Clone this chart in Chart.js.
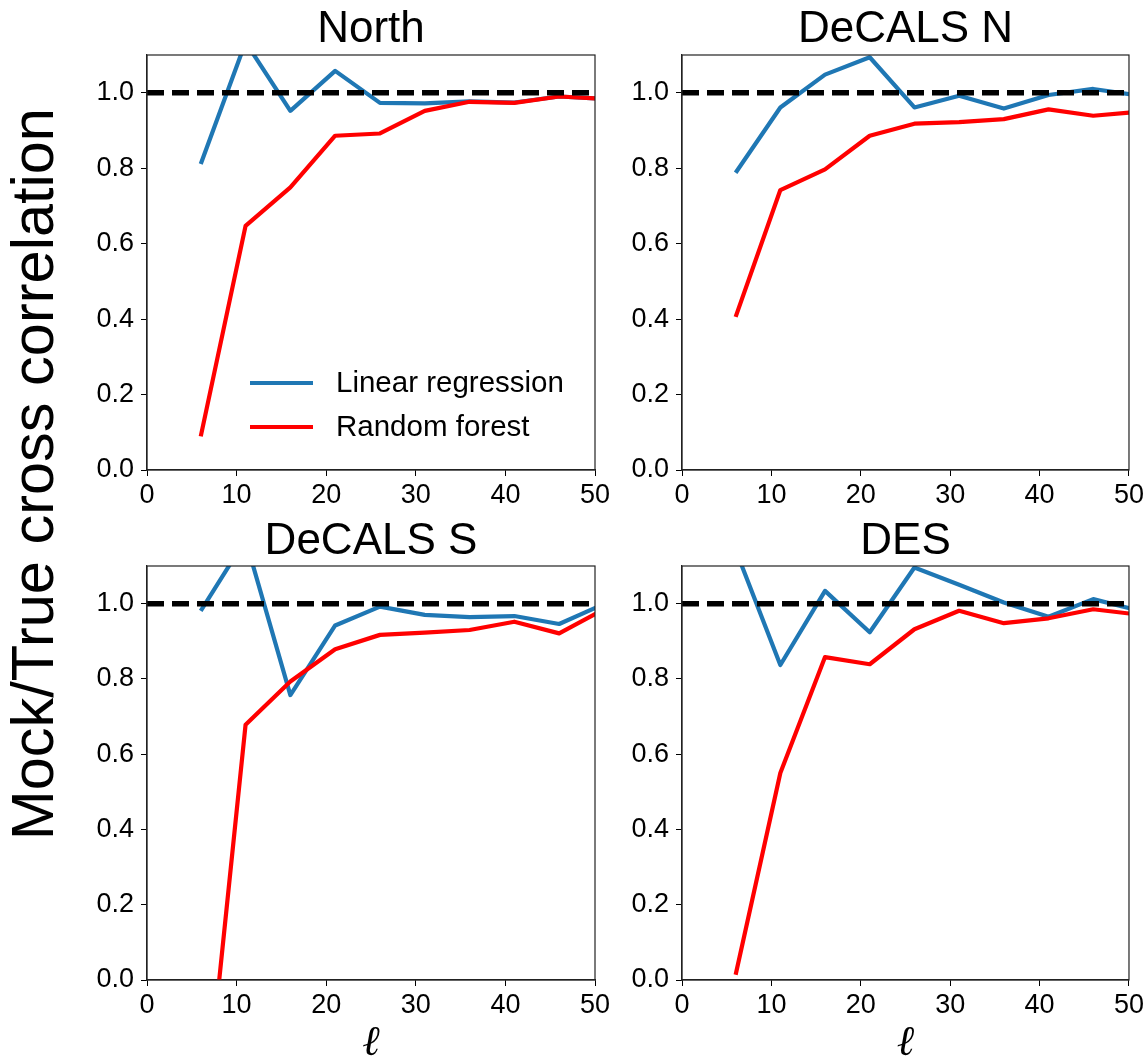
<!DOCTYPE html>
<html>
<head>
<meta charset="utf-8">
<script src="https://cdn.jsdelivr.net/npm/chart.js@4.4.0/dist/chart.umd.min.js"></script>
<style>
  html, body { margin: 0; padding: 0; background: #fff; }
  #wrap { position: relative; width: 1147px; height: 1057px; overflow: hidden; }
  #wrap canvas { position: absolute; left: 0; top: 0; }
</style>
</head>
<body>
<div id="wrap">
  <canvas id="pNorth" width="1147" height="1057"></canvas>
  <canvas id="pDecalsN" width="1147" height="1057"></canvas>
  <canvas id="pDecalsS" width="1147" height="1057"></canvas>
  <canvas id="pDes" width="1147" height="1057"></canvas>
</div>
<script>
// Multipole bins (the last bin sits just past the plotted range)
const ells = [6, 11, 16, 21, 26, 31, 36, 41, 46, 51];
const xTicks = [0, 10, 20, 30, 40, 50];
const yTicks = [0.0, 0.2, 0.4, 0.6, 0.8, 1.0];

const panelTitles = ['North', 'DeCALS N', 'DeCALS S', 'DES'];
const seriesNames = ['Linear regression', 'Random forest'];
const yAxisLabel = 'Mock/True cross correlation';
const xAxisLabel = 'ℓ';

// Reference ratio of 1
const unityEll = [0, 50];
const unity = [1, 1];

// Mock/True cross-correlation ratios per footprint
const linNorth = [0.811, 1.134, 0.952, 1.058, 0.973, 0.972, 0.977, 0.974, 0.990, 0.984];
const rfNorth  = [0.089, 0.647, 0.749, 0.886, 0.892, 0.952, 0.976, 0.973, 0.990, 0.984];

const linDecalsN = [0.788, 0.961, 1.048, 1.094, 0.961, 0.992, 0.958, 0.994, 1.010, 0.993];
const rfDecalsN  = [0.406, 0.742, 0.797, 0.886, 0.918, 0.922, 0.930, 0.956, 0.939, 0.949];

const linDecalsS = [0.981, 1.170, 0.757, 0.942, 0.992, 0.970, 0.964, 0.967, 0.946, 0.999];
const rfDecalsS  = [-0.475, 0.678, 0.793, 0.879, 0.917, 0.923, 0.930, 0.952, 0.921, 0.985];

const linDes = [1.143, 0.837, 1.034, 0.924, 1.096, 1.050, 1.003, 0.965, 1.012, 0.982];
const rfDes  = [0.014, 0.550, 0.858, 0.839, 0.932, 0.981, 0.948, 0.961, 0.985, 0.971];

const FONT = '"Liberation Sans", Arial, Helvetica, sans-serif';
const PAGE_W = 1147, PAGE_H = 1057;
const LIN_COLOR = '#1f77b4';
const RF_COLOR = '#ff0000';
const TITLE_SIZE = 44;
const TITLE_LH = 1.1;

// Full box around each axes, like matplotlib spines
const framePlugin = {
  id: 'frame',
  afterDatasetsDraw(chart) {
    const a = chart.chartArea, ctx = chart.ctx;
    ctx.save();
    ctx.strokeStyle = '#222';
    ctx.lineWidth = 1.2;
    ctx.strokeRect(a.left, a.top, a.right - a.left, a.bottom - a.top);
    ctx.restore();
  }
};

// Legend inside the first panel
const insideLegend = {
  id: 'insideLegend',
  afterDraw(chart, args, opts) {
    if (!opts.show) return;
    const ctx = chart.ctx, a = chart.chartArea;
    const items = chart.data.datasets.filter(d => seriesNames.includes(d.label));
    ctx.save();
    ctx.font = '29.5px ' + FONT;
    ctx.textBaseline = 'middle';
    ctx.fillStyle = '#000';
    items.forEach((d, i) => {
      const y = a.top + 328 + i * 44;
      const x0 = a.left + 103;
      ctx.strokeStyle = d.borderColor;
      ctx.lineWidth = d.borderWidth;
      ctx.beginPath();
      ctx.moveTo(x0, y);
      ctx.lineTo(x0 + 63, y);
      ctx.stroke();
      ctx.fillText(d.label, x0 + 86, y + 1);
    });
    ctx.restore();
  }
};

// Shared y label for the whole figure
const figureYLabel = {
  id: 'figureYLabel',
  afterDraw(chart, args, opts) {
    if (!opts.show) return;
    const ctx = chart.ctx;
    ctx.save();
    ctx.translate(53, 474);
    ctx.rotate(-Math.PI / 2);
    ctx.font = '59.5px ' + FONT;
    ctx.fillStyle = '#000';
    ctx.textAlign = 'center';
    ctx.textBaseline = 'alphabetic';
    ctx.fillText(yAxisLabel, 0, 0);
    ctx.restore();
  }
};

function makePanel(canvasId, title, lin, rf, area, opts) {
  const Y_W = 60;
  const X_H = opts.xTitle ? 77 : 40;
  const titlePad = opts.titlePad;
  const titleBox = TITLE_SIZE * TITLE_LH + titlePad.top + titlePad.bottom;
  const axisCommon = {
    type: 'linear',
    grid: { drawOnChartArea: false, drawTicks: true, tickLength: 6, tickColor: '#000', tickWidth: 1, color: '#000' },
    border: { display: true, color: '#222', width: 1.2 }
  };
  return new Chart(document.getElementById(canvasId), {
    type: 'line',
    data: {
      datasets: [
        {
          label: 'unity',
          data: unityEll.map((x, i) => ({ x, y: unity[i] })),
          borderColor: '#000', borderWidth: 5.5, borderDash: [17, 8],
          pointRadius: 0, order: 0, clip: 0
        },
        {
          label: seriesNames[0],
          data: ells.map((x, i) => ({ x, y: lin[i] })),
          borderColor: LIN_COLOR, borderWidth: 4.2, borderJoinStyle: 'round',
          pointRadius: 0, order: 2, clip: 0
        },
        {
          label: seriesNames[1],
          data: ells.map((x, i) => ({ x, y: rf[i] })),
          borderColor: RF_COLOR, borderWidth: 4.2, borderJoinStyle: 'round',
          pointRadius: 0, order: 1, clip: 0
        }
      ]
    },
    options: {
      responsive: false,
      animation: false,
      devicePixelRatio: 1,
      events: [],
      layout: {
        padding: {
          left: area.left - Y_W,
          right: PAGE_W - area.right,
          top: area.top - titleBox,
          bottom: PAGE_H - area.bottom - X_H
        }
      },
      elements: { line: { tension: 0 } },
      plugins: {
        legend: { display: false },
        tooltip: { enabled: false },
        title: {
          display: true, text: title, fullSize: false, color: '#000',
          font: { family: FONT, size: TITLE_SIZE, weight: 'normal', lineHeight: TITLE_LH },
          padding: titlePad
        },
        insideLegend: { show: !!opts.legend },
        figureYLabel: { show: !!opts.yLabel }
      },
      scales: {
        x: Object.assign({}, axisCommon, {
          min: 0, max: 50,
          afterFit(s) { s.height = X_H; },
          afterBuildTicks(s) { s.ticks = xTicks.map(v => ({ value: v })); },
          ticks: { font: { family: FONT, size: 27 }, color: '#000', padding: 3, maxRotation: 0, autoSkip: false },
          title: {
            display: !!opts.xTitle, text: xAxisLabel, color: '#000',
            font: { family: '"DejaVu Serif", serif', style: 'italic', size: 42, lineHeight: 0.6 },
            padding: { top: 0, bottom: 0 }
          }
        }),
        y: Object.assign({}, axisCommon, {
          min: 0, max: 1.1,
          afterFit(s) { s.width = Y_W; },
          afterBuildTicks(s) { s.ticks = yTicks.map(v => ({ value: v })); },
          ticks: { font: { family: FONT, size: 27 }, color: '#000', padding: 7, autoSkip: false,
                   callback: v => Number(v).toFixed(1) }
        })
      }
    },
    plugins: [framePlugin, insideLegend, figureYLabel]
  });
}

const topPad = { top: 6, bottom: 0.6 };
const bottomPad = { top: 4, bottom: 0 };
makePanel('pNorth',   panelTitles[0], linNorth,   rfNorth,   { left: 147, right: 595,  top: 55,  bottom: 470 }, { legend: true, yLabel: true, titlePad: topPad });
makePanel('pDecalsN', panelTitles[1], linDecalsN, rfDecalsN, { left: 682, right: 1130, top: 55,  bottom: 470 }, { titlePad: topPad });
makePanel('pDecalsS', panelTitles[2], linDecalsS, rfDecalsS, { left: 147, right: 595,  top: 566, bottom: 980 }, { xTitle: true, titlePad: bottomPad });
makePanel('pDes',     panelTitles[3], linDes,     rfDes,     { left: 682, right: 1130, top: 566, bottom: 980 }, { xTitle: true, titlePad: bottomPad });
</script>
</body>
</html>
